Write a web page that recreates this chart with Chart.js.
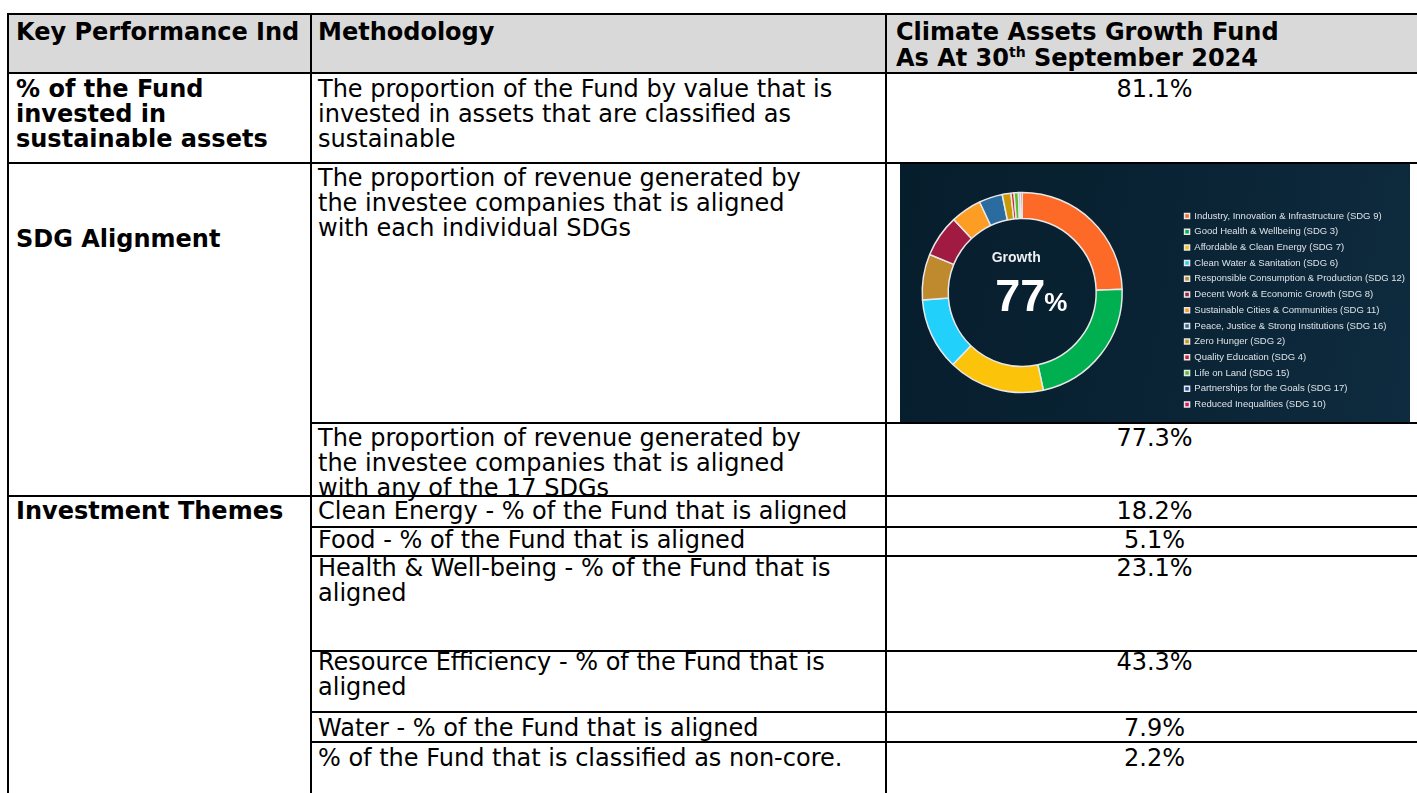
<!DOCTYPE html>
<html>
<head>
<meta charset="utf-8">
<script src="https://cdn.jsdelivr.net/npm/chart.js@4.4.1/dist/chart.umd.min.js"></script>
<style>
  html, body { margin: 0; padding: 0; background: #fff; }
  body { width: 1417px; height: 793px; position: relative; overflow: hidden;
         font-family: "DejaVu Sans", Verdana, sans-serif; font-size: 24px; color: #000; }
  .t { position: absolute; line-height: 25px; white-space: nowrap; }
  .hd { line-height: 26px; }
  .b { font-weight: bold; }
  .v { left: 887px; width: 535px; text-align: center; }
  .h { position: absolute; height: 2px; background: #000; }
  .vl { position: absolute; width: 2px; background: #000; }
  sup { font-size: 14px; line-height: 0; vertical-align: 9px; }
  #panel { position: absolute; left: 900px; top: 164px; width: 510px; height: 258px;
           background: linear-gradient(100deg, #061d2c 0%, #0a2435 55%, #0f2b3f 100%); }
  #sdgChart { position: absolute; left: 866px; top: 163px; }
</style>
</head>
<body>
<div style="position:absolute;left:9px;top:15px;width:1408px;height:57px;background:#d9d9d9"></div>
<div id="panel"></div>
<canvas id="sdgChart" width="549" height="259"></canvas>

<!-- header -->
<div class="t b hd" style="left:16px;top:19px;width:284px;overflow:hidden">Key Performance Indicator</div>
<div class="t b hd" style="left:318px;top:19px">Methodology</div>
<div class="t b hd" style="left:896px;top:19px">Climate Assets Growth Fund<br>As At 30<sup>th</sup> September 2024</div>

<!-- sustainable assets -->
<div class="t b" style="left:16px;top:77px">% of the Fund<br>invested in<br>sustainable assets</div>
<div class="t" style="left:318px;top:77px">The proportion of the Fund by value that is<br>invested in assets that are classified as<br>sustainable</div>
<div class="t v" style="top:77px">81.1%</div>

<!-- SDG alignment -->
<div class="t b" style="left:16px;top:227px">SDG Alignment</div>
<div class="t" style="left:318px;top:166px">The proportion of revenue generated by<br>the investee companies that is aligned<br>with each individual SDGs</div>
<div class="t" style="left:318px;top:426px">The proportion of revenue generated by<br>the investee companies that is aligned<br>with any of the 17 SDGs</div>
<div class="t v" style="top:426px">77.3%</div>

<!-- investment themes -->
<div class="t b" style="left:16px;top:499px">Investment Themes</div>
<div class="t" style="left:318px;top:499px">Clean Energy - % of the Fund that is aligned</div>
<div class="t v" style="top:499px">18.2%</div>
<div class="t" style="left:318px;top:528px">Food - % of the Fund that is aligned</div>
<div class="t v" style="top:528px">5.1%</div>
<div class="t" style="left:318px;top:556px">Health &amp; Well-being - % of the Fund that is<br>aligned</div>
<div class="t v" style="top:556px">23.1%</div>
<div class="t" style="left:318px;top:650px">Resource Efficiency - % of the Fund that is<br>aligned</div>
<div class="t v" style="top:650px">43.3%</div>
<div class="t" style="left:318px;top:716px">Water - % of the Fund that is aligned</div>
<div class="t v" style="top:716px">7.9%</div>
<div class="t" style="left:318px;top:746px">% of the Fund that is classified as non-core.</div>
<div class="t v" style="top:746px">2.2%</div>

<!-- grid lines -->
<div class="h" style="left:7px;top:13px;width:1410px"></div>
<div class="h" style="left:7px;top:72px;width:1410px"></div>
<div class="h" style="left:7px;top:162px;width:1410px"></div>
<div class="h" style="left:310px;top:422px;width:1107px"></div>
<div class="h" style="left:7px;top:495px;width:1410px"></div>
<div class="h" style="left:310px;top:526px;width:1107px"></div>
<div class="h" style="left:310px;top:555px;width:1107px"></div>
<div class="h" style="left:310px;top:650px;width:1107px"></div>
<div class="h" style="left:310px;top:711px;width:1107px"></div>
<div class="h" style="left:310px;top:741px;width:1107px"></div>
<div class="vl" style="left:7px;top:13px;height:780px"></div>
<div class="vl" style="left:310px;top:13px;height:780px"></div>
<div class="vl" style="left:885px;top:13px;height:780px"></div>

<script>
const sdgLabels = [
  "Industry, Innovation & Infrastructure (SDG 9)",
  "Good Health & Wellbeing (SDG 3)",
  "Affordable & Clean Energy (SDG 7)",
  "Clean Water & Sanitation (SDG 6)",
  "Responsible Consumption & Production (SDG 12)",
  "Decent Work & Economic Growth (SDG 8)",
  "Sustainable Cities & Communities (SDG 11)",
  "Peace, Justice & Strong Institutions (SDG 16)",
  "Zero Hunger (SDG 2)",
  "Quality Education (SDG 4)",
  "Life on Land (SDG 15)",
  "Partnerships for the Goals (SDG 17)",
  "Reduced Inequalities (SDG 10)"
];
const sdgValues = [24.5, 22.1, 15.6, 11.6, 7.4, 6.8, 5.0, 3.8, 1.4, 0.5, 0.7, 0.3, 0.3];
const sdgColors = [
  "#fd6a27", "#00b050", "#fcc30b", "#21d1fb", "#bf8a2e", "#a01a42", "#fd9d24",
  "#2a6c9f", "#c99a06", "#d21f33", "#56c02b", "#1e4fa8", "#dd1367"
];
const centerTitle = "Growth";
const centerValue = "77";

// big "Growth 77%" in the hole of the ring
const centerText = {
  id: "centerText",
  afterDraw(chart) {
    const arc = chart.getDatasetMeta(0).data[0];
    if (!arc) return;
    const ctx = chart.ctx;
    const x = arc.x, y = arc.y;
    ctx.save();
    ctx.fillStyle = "#eef0f2";
    ctx.textBaseline = "middle";
    ctx.textAlign = "center";
    ctx.font = "bold 14px 'Liberation Sans', Arial, sans-serif";
    ctx.fillText(centerTitle, x - 6, y - 34);
    ctx.fillStyle = "#ffffff";
    ctx.textBaseline = "alphabetic";
    ctx.textAlign = "left";
    ctx.font = "bold 45px 'Liberation Sans', Arial, sans-serif";
    ctx.fillText(centerValue, x - 27, y + 18);
    ctx.font = "bold 26px 'Liberation Sans', Arial, sans-serif";
    ctx.fillText("%", x + 22, y + 18);
    ctx.restore();
  }
};

new Chart(document.getElementById("sdgChart"), {
  type: "doughnut",
  data: {
    labels: sdgLabels,
    datasets: [{
      data: sdgValues,
      backgroundColor: sdgColors,
      borderColor: "#e8e8e8",
      borderWidth: 1.5
    }]
  },
  options: {
    responsive: false,
    animation: false,
    radius: 100,
    cutout: "74%",
    layout: { padding: { left: 0, right: 0, top: 6.65, bottom: 6.65 } },
    plugins: {
      tooltip: { enabled: false },
      legend: {
        position: "right",
        align: "end",
        labels: {
          boxWidth: 5,
          boxHeight: 5,
          padding: 6.2,
          color: "#dde2e7",
          font: { family: "'Liberation Sans', Arial, sans-serif", size: 9.5 }
        }
      }
    }
  },
  plugins: [centerText]
});
</script>
</body>
</html>
